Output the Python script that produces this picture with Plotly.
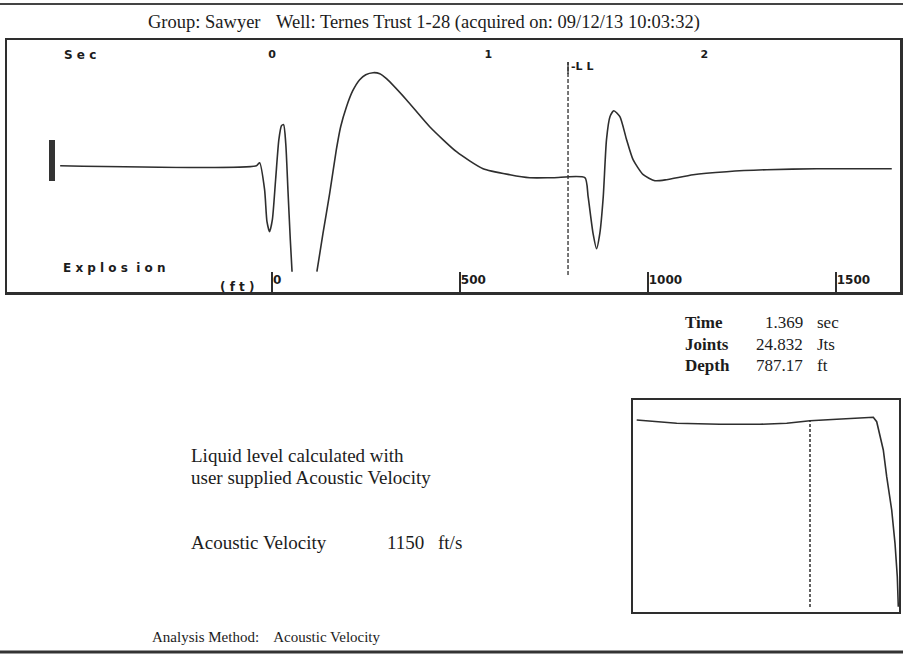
import plotly.graph_objects as go

W, H = 903, 657

# ---------------- data ----------------
# Acoustic echo trace: time (sec) and amplitude (display units); None = clipped gap
trace_time = [-0.981, -0.073, -0.058, -0.035, -0.024, -0.012, 0.001, 0.016, 0.031, 0.043,
              0.053, 0.063, 0.073, 0.084, 0.092, None, 0.207, 0.235, 0.266, 0.297,
              0.317, 0.344, 0.373, 0.405, 0.433, 0.467, 0.498, 0.529, 0.621, 0.729,
              0.853, 0.976, 1.100, 1.192, 1.300, 1.447, 1.462, 1.485, 1.501, 1.516,
              1.532, 1.547, 1.563, 1.581, 1.609, 1.640, 1.670, 1.717, 1.771, 1.825,
              1.948, 2.103, 2.288, 2.519, 2.867]
trace_amp = [0, 0, 3, -24, -56, -66, -54, -14, 26, 40,
             41, 22, -24, -74, -106, None, -106, -68, -28, 16,
             39, 59, 75, 86, 91, 93, 92, 87, 66, 39,
             14, -3, -9, -12, -12, -12, -31, -68, -83, -68,
             -31, 26, 49, 55, 49, 26, 6, -9, -15, -14,
             -9, -6, -4, -3, -3]

sec_ticks = [0, 1, 2]
sec_tick_text = ["0", "1", "2"]
depth_ticks = [0, 500, 1000, 1500]
depth_tick_text = ["0", "500", "1000", "1500"]

acoustic_velocity = 1150  # ft/s
ll_time = 1.369
ll_joints = 24.832
ll_depth = 787.17

# zoomed liquid-level window trace
inset_pos = [3.7, 43.7, 87, 127, 153.7, 177, 203.7, 240.3, 243.7, 250.3, 253.7, 258.7, 262, 264.3, 265.3]
inset_amp = [192, 188.7, 187.7, 187.7, 188.7, 191.3, 192.7, 194.7, 190.3, 162, 135.3, 102, 68.7, 35.3, 5.3]
inset_marker = 177

# ---------------- layout helpers ----------------
def fx(p):
    return p / W

def fy(p):
    return 1 - p / H

t_min, t_max = -1.2269, 2.9051
d_min, d_max = t_min * acoustic_velocity / 2, t_max * acoustic_velocity / 2

INK = "#1c1c1c"
LINE = "#2e2e2e"
SERIF = "Liberation Serif"
BLOCK = "DejaVu Sans"

fig = go.Figure()

fig.add_trace(go.Scatter(
    x=trace_time, y=trace_amp, mode="lines", xaxis="x", yaxis="y",
    line=dict(color=LINE, width=1.6, shape="spline", smoothing=0.6),
    connectgaps=False, hoverinfo="skip", showlegend=False))

# invisible trace to activate the depth axis
fig.add_trace(go.Scatter(
    x=[d_min, d_max], y=[0, 0], mode="lines", xaxis="x3", yaxis="y",
    line=dict(color="rgba(0,0,0,0)", width=0), hoverinfo="skip", showlegend=False))

fig.add_trace(go.Scatter(
    x=inset_pos, y=inset_amp, mode="lines", xaxis="x2", yaxis="y2",
    line=dict(color=LINE, width=1.6), hoverinfo="skip", showlegend=False))

top_dom_x = [fx(7), fx(900)]
top_dom_y = [fy(292), fy(40)]

fig.update_layout(
    width=W, height=H,
    margin=dict(l=0, r=0, t=0, b=0),
    paper_bgcolor="white", plot_bgcolor="white",
    showlegend=False,
    xaxis=dict(domain=top_dom_x, range=[t_min, t_max], side="top", anchor="y",
               tickvals=sec_ticks, ticktext=sec_tick_text, ticks="",
               ticklabelposition="inside", ticklabelstandoff=10,
               tickfont=dict(family=BLOCK, size=11, color=INK, weight="bold"),
               showgrid=False, zeroline=False, showline=True, mirror=True,
               linecolor=LINE, linewidth=2.5, fixedrange=True),
    xaxis3=dict(overlaying="x", anchor="y", side="bottom", range=[d_min, d_max],
                tickvals=depth_ticks, ticktext=depth_tick_text,
                ticks="inside", ticklen=20, tickwidth=1.5, tickcolor=LINE,
                ticklabelposition="inside right",
                tickfont=dict(family=BLOCK, size=12, color=INK, weight="bold"),
                showgrid=False, zeroline=False, showline=False, fixedrange=True),
    yaxis=dict(domain=top_dom_y, range=[-126.3, 125.7], anchor="x",
               showticklabels=False, ticks="", showgrid=False, zeroline=False,
               showline=True, mirror=True, linecolor=LINE, linewidth=2.5, fixedrange=True),
    xaxis2=dict(domain=[fx(633), fx(899)], range=[0, 266], anchor="y2",
                showticklabels=False, ticks="", showgrid=False, zeroline=False,
                showline=True, mirror=True, linecolor=LINE, linewidth=2, fixedrange=True),
    yaxis2=dict(domain=[fy(612), fy(400)], range=[0, 212], anchor="x2",
                showticklabels=False, ticks="", showgrid=False, zeroline=False,
                showline=True, mirror=True, linecolor=LINE, linewidth=2, fixedrange=True),
)

shapes = [
    # page rules
    dict(type="line", xref="paper", yref="paper", x0=0, x1=1, y0=fy(4), y1=fy(4),
         line=dict(color="#444", width=2)),
    dict(type="line", xref="paper", yref="paper", x0=0, x1=1, y0=fy(652), y1=fy(652),
         line=dict(color="#333", width=3)),
    # liquid level marker
    dict(type="line", xref="x", yref="paper", x0=ll_time, x1=ll_time, y0=fy(275), y1=fy(62),
         line=dict(color=LINE, width=1.3, dash="4px,2px")),
    dict(type="line", xref="x", yref="paper", x0=ll_time, x1=ll_time, y0=fy(74), y1=fy(62),
         line=dict(color=LINE, width=1.3)),
    # inset marker
    dict(type="line", xref="x2", yref="y2", x0=inset_marker, x1=inset_marker, y0=5, y1=192,
         line=dict(color=LINE, width=1.5, dash="3px,2px")),
    # clipped gain mark at left
    dict(type="line", xref="paper", yref="paper", x0=fx(52), x1=fx(52), y0=fy(181), y1=fy(140),
         line=dict(color="#333", width=6)),
]
fig.update_layout(shapes=shapes)

def ann(text, x, y, size=18, xanchor="left", family=SERIF, weight="normal"):
    fig.add_annotation(text=text, x=fx(x), y=fy(y), xref="paper", yref="paper",
                       xanchor=xanchor, yanchor="middle", showarrow=False,
                       font=dict(family=family, size=size, color=INK, weight=weight))

ann("Group: Sawyer", 146, 22, size=18.5)
ann("Well: Ternes Trust 1-28 (acquired on: 09/12/13 10:03:32)", 274, 22, size=18.5)

ann("S e c", 62, 55, size=12, family=BLOCK, weight="bold")
ann("E x p l o s  i o n", 61, 268, size=12, family=BLOCK, weight="bold")
ann("( f t )", 218, 287, size=12, family=BLOCK, weight="bold")
ann("-L L", 569, 67, size=11, family=BLOCK, weight="bold")

# results block
rows = [("Time", f"{ll_time:.3f}", "sec", 323),
        ("Joints", f"{ll_joints:.3f}", "Jts", 344),
        ("Depth", f"{ll_depth:.2f}", "ft", 365)]
for label, val, unit, y in rows:
    ann(label, 683, y, size=17, weight="bold")
    ann(val, 805, y, size=17, xanchor="right")
    ann(unit, 815, y, size=17)

ann("Liquid level calculated with", 189, 455, size=19)
ann("user supplied Acoustic Velocity", 189, 477, size=19)
ann("Acoustic Velocity", 189, 542, size=19)
ann(f"{acoustic_velocity}", 385, 542, size=19)
ann("ft/s", 436, 542, size=19)

ann("Analysis Method:&nbsp;&nbsp;&nbsp; Acoustic Velocity", 150, 637, size=15)

fig.write_html("out.html",
               config={"displayModeBar": False, "staticPlot": True},
               post_script="document.body.style.margin='0';document.body.style.padding='0';")
